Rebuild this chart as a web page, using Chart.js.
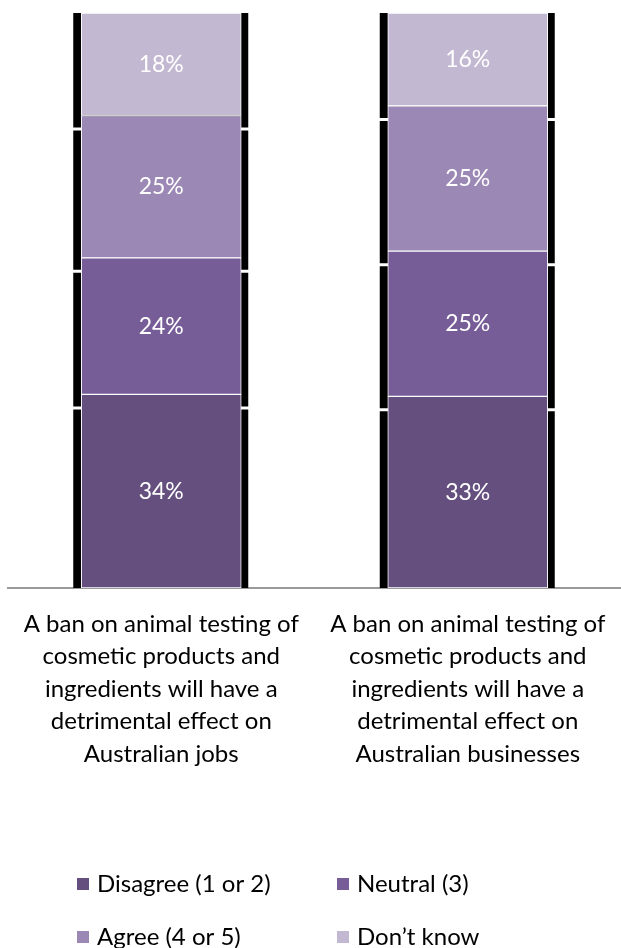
<html>

<head>
    <title>Animal testing ban</title>
    <script src="https://cdn.jsdelivr.net/npm/chart.js@4/dist/chart.umd.min.js"></script>
    <style>
        body { margin: 0; background: #fff; }
    </style>
</head>

<body>
    <canvas id="plotCanvas" width="621" height="948"></canvas>
    <script>
        // ========= Data =================================

        const categories = [
            ['A ban on animal testing of', 'cosmetic products and', 'ingredients will have a', 'detrimental effect on', 'Australian jobs'],
            ['A ban on animal testing of', 'cosmetic products and', 'ingredients will have a', 'detrimental effect on', 'Australian businesses'],
        ]
        const disagree = [34, 33]
        const neutral = [24, 25]
        const agree = [25, 25]
        const dontKnow = [18, 16]

        const seriesNames = ['Disagree (1 or 2)', 'Neutral (3)', 'Agree (4 or 5)', 'Don\u2019t know']
        const seriesValues = [disagree, neutral, agree, dontKnow]
        const seriesColors = ['#644f7f', '#775d97', '#9b88b4', '#c3b8d1']

        const font = 'Lato, "Open Sans", sans-serif'

        // 100% stacked: each bar fills the axis
        const totals = categories.map((c, i) => seriesValues.reduce((s, v) => s + v[i], 0))

        // ========= Plugins ==========

        // black bracket-like shadow behind every segment
        const shadows = {
            id: 'shadows',
            beforeDatasetsDraw(chart) {
                const ctx = chart.ctx
                const area = chart.chartArea
                const last = chart.data.datasets.length - 1
                ctx.save()
                ctx.fillStyle = '#000'
                chart.data.datasets.forEach((ds, d) => {
                    chart.getDatasetMeta(d).data.forEach(bar => {
                        const left = bar.x - bar.width / 2 - 8
                        const right = bar.x + bar.width / 2 + 7
                        const top = d === last ? bar.y : bar.y + 15
                        const bottom = d === 0 ? area.bottom : bar.base + 12
                        const r = 8
                        ctx.beginPath()
                        ctx.roundRect(left, top, right - left, bottom - top, {
                            topLeft: d === last ? r : 0,
                            topRight: d === last ? r : 0,
                            bottomLeft: d === 0 ? 0 : r,
                            bottomRight: d === 0 ? 0 : r,
                        })
                        ctx.fill()
                    })
                })
                ctx.restore()
            },
        }

        const dataLabels = {
            id: 'dataLabels',
            afterDatasetsDraw(chart) {
                const ctx = chart.ctx
                ctx.save()
                ctx.fillStyle = '#fff'
                ctx.font = `23px ${font}`
                ctx.textAlign = 'center'
                ctx.textBaseline = 'middle'
                chart.data.datasets.forEach((ds, d) => {
                    chart.getDatasetMeta(d).data.forEach((bar, i) => {
                        ctx.fillText(seriesValues[d][i] + '%', bar.x, (bar.y + bar.base) / 2)
                    })
                })
                ctx.restore()
            },
        }

        // legend in two fixed columns
        const gridLegend = {
            id: 'gridLegend',
            afterDraw(chart) {
                const ctx = chart.ctx
                const cols = [77, 337]
                const rows = [884, 937]
                ctx.save()
                ctx.font = `24px ${font}`
                ctx.textBaseline = 'middle'
                ctx.textAlign = 'left'
                chart.data.datasets.forEach((ds, d) => {
                    const x = cols[d % 2]
                    const y = rows[Math.floor(d / 2)]
                    ctx.fillStyle = ds.backgroundColor
                    ctx.fillRect(x, y - 6, 12, 12)
                    ctx.fillStyle = '#000'
                    ctx.fillText(ds.label, x + 20, y)
                })
                ctx.restore()
            },
        }

        // ========= Chart ==========

        new Chart(document.getElementById('plotCanvas'), {
            type: 'bar',
            data: {
                labels: categories,
                datasets: seriesNames.map((name, d) => ({
                    label: name,
                    data: seriesValues[d].map((v, i) => (v / totals[i]) * 100),
                    backgroundColor: seriesColors[d],
                    borderColor: '#fff',
                    borderWidth: 1,
                    borderSkipped: false,
                    barThickness: 160,
                })),
            },
            options: {
                responsive: false,
                animation: false,
                layout: { padding: { top: 13, left: 8, right: 0, bottom: 0 } },
                plugins: {
                    legend: { display: false },
                    tooltip: { enabled: false },
                },
                scales: {
                    x: {
                        stacked: true,
                        grid: { display: false },
                        border: { color: '#9a9a9a', width: 2 },
                        ticks: {
                            color: '#000',
                            padding: 12,
                            maxRotation: 0,
                            autoSkip: false,
                            font: { family: font, size: 24, lineHeight: 1.35 },
                        },
                        afterFit(scale) { scale.height = 360 },
                    },
                    y: {
                        stacked: true,
                        display: false,
                        min: 0,
                        max: 100,
                    },
                },
            },
            plugins: [shadows, dataLabels, gridLegend],
        })
    </script>
</body>

</html>
